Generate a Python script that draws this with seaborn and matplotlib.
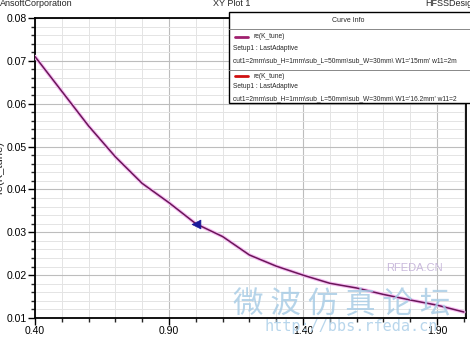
import numpy as np
import pandas as pd
import seaborn as sns
import matplotlib
matplotlib.use("Agg")
import matplotlib.pyplot as plt
from matplotlib.lines import Line2D
from matplotlib.patches import Rectangle

# ---- data ----
freq_ghz = [0.4, 0.6, 0.7, 0.8, 0.9, 1.0, 1.1, 1.2, 1.3, 1.4, 1.5, 1.6, 1.7, 1.8, 1.9, 2.0]
re_k_tune_w15 = [0.0710, 0.0548, 0.0476, 0.0414, 0.0369, 0.0320, 0.0290, 0.0247, 0.0221,
                 0.0200, 0.0181, 0.0170, 0.0155, 0.0142, 0.0130, 0.0114]
re_k_tune_w16 = [0.0710, 0.0548, 0.0476, 0.0414, 0.0369, 0.0320, 0.0290, 0.0247, 0.0221,
                 0.0200, 0.0181, 0.0170, 0.0155, 0.0142, 0.0130, 0.0114]
marker_x = [1.0]
marker_y = [0.0320]
x_ticks = [0.40, 0.90, 1.40, 1.90]
x_tick_labels = ["0.40", "0.90", "1.40", "1.90"]
y_ticks = [0.01, 0.02, 0.03, 0.04, 0.05, 0.06, 0.07, 0.08]
y_tick_labels = ["0.01", "0.02", "0.03", "0.04", "0.05", "0.06", "0.07", "0.08"]
legend_name = "re(K_tune)"
legend_setup = "Setup1 : LastAdaptive"
legend_vars = ["cut1=2mm\\sub_H=1mm\\sub_L=50mm\\sub_W=30mm\\ W1='15mm' w11=2m",
               "cut1=2mm\\sub_H=1mm\\sub_L=50mm\\sub_W=30mm\\ W1='16.2mm' w11=2"]

sns.set_style("white")
plt.rcParams['font.family'] = ['Liberation Sans', 'DejaVu Sans']

W, H = 470, 338
fig = plt.figure(figsize=(W / 100, H / 100), dpi=100)
fig.patch.set_facecolor("white")

def fx(px):
    return px / W

def fy(py):
    return 1 - py / H

ax = fig.add_axes([fx(35), fy(318), fx(466) - fx(35), fy(18) - fy(318)])

df = pd.DataFrame({"freq": freq_ghz, "w15": re_k_tune_w15, "w16": re_k_tune_w16})
sns.lineplot(data=df, x="freq", y="w15", ax=ax, color="#f6bdf3", lw=2.6, zorder=3)
sns.lineplot(data=df, x="freq", y="w16", ax=ax, color="#6a1658", lw=1.1, zorder=4)
sns.scatterplot(x=marker_x, y=marker_y, ax=ax, marker="<", s=40, color="#1a1a9a",
                edgecolor="#1a1a9a", zorder=5)

ax.set_xlim(0.4, 2.008)
ax.set_ylim(0.01, 0.08)
ax.set_xticks(x_ticks)
ax.set_xticklabels(x_tick_labels)
ax.set_yticks(y_ticks)
ax.set_yticklabels(y_tick_labels)
ax.set_xticks(np.arange(0.4, 2.01, 0.1), minor=True)
ax.set_yticks(np.arange(0.01, 0.0801, 0.002), minor=True)
ax.grid(which="minor", color="#e4e4e4", lw=0.7)
ax.grid(which="major", color="#bdbdbd", lw=0.8)
ax.set_axisbelow(True)
for s in ax.spines.values():
    s.set_color("black")
    s.set_linewidth(1.3)
ax.tick_params(axis="both", which="major", direction="out", length=5, width=1, labelsize=7.5,
               pad=1, colors="black", left=True, bottom=True)
ax.tick_params(axis="both", which="minor", direction="out", length=3, width=1, left=True, bottom=True)
ax.set_xlabel("Freq [GHz]", fontsize=8)
ax.set_ylabel("re(K_tune)", fontsize=8)
ax.xaxis.set_label_coords(0.5, -0.085)
ax.yaxis.set_label_coords(-0.072, 0.5)

# header texts
fig.text(fx(0), fy(4), "AnsoftCorporation", fontsize=6.5, va="center", ha="left")
fig.text(fx(232), fy(4), "XY Plot 1", fontsize=6.5, va="center", ha="center")
fig.text(fx(425), fy(4), "HFSSDesign1", fontsize=6.5, va="center", ha="left")

# watermarks
fig.text(fx(342), fy(304), "微 波 仿 真 论 坛", fontsize=22, color="#a9cde6", alpha=0.85,
         ha="center", va="center", family=["Noto Sans CJK SC", "DejaVu Sans"], zorder=20)
fig.text(fx(351), fy(327), "http://bbs.rfeda.cn", fontsize=11, color="#b8d6ec",
         ha="center", va="center", family=["DejaVu Sans Mono"], zorder=20)
fig.text(fx(414), fy(268), "RFEDA.CN", fontsize=8, color="#c9b9dc",
         ha="center", va="center", family=["Liberation Sans", "DejaVu Sans"], zorder=20)

# legend box (Curve Info)
box = Rectangle((fx(229), fy(103)), fx(480) - fx(229), fy(12) - fy(103),
                transform=fig.transFigure, facecolor="white", edgecolor="black", lw=1.0, zorder=30)
fig.add_artist(box)
for py in (29, 70):
    fig.add_artist(Line2D([fx(229), fx(470)], [fy(py), fy(py)], transform=fig.transFigure,
                          color="#888888", lw=0.7, zorder=31))
fig.text(fx(348), fy(21), "Curve Info", fontsize=5, ha="center", va="center", zorder=32)
colors = ["#a0206f", "#d01010"]
rows = [(37, 48, 61), (76, 87, 99)]
for (yl, ys, yv), c, vtxt in zip(rows, colors, legend_vars):
    fig.add_artist(Line2D([fx(235), fx(248)], [fy(yl), fy(yl)], transform=fig.transFigure,
                          color=c, lw=2, zorder=32))
    fig.text(fx(253), fy(yl), legend_name, fontsize=4.8, ha="left", va="center", zorder=32)
    fig.text(fx(233), fy(ys), legend_setup, fontsize=4.8, ha="left", va="center", zorder=32)
    fig.text(fx(233), fy(yv), vtxt, fontsize=4.8, ha="left", va="center", zorder=32)

fig.savefig("out.png", dpi=100)
